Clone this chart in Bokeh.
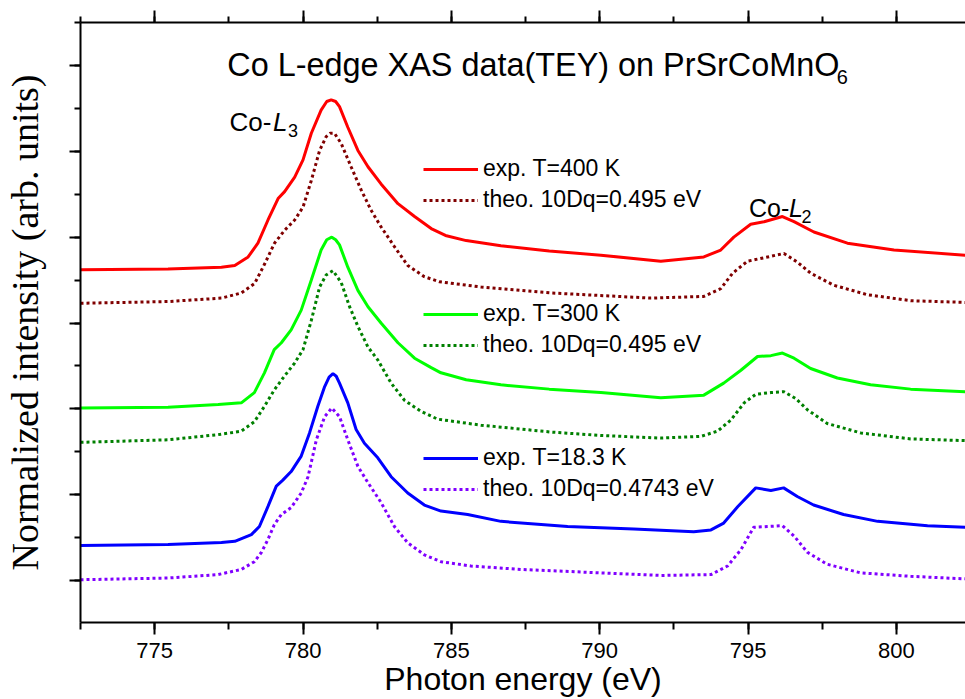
from bokeh.plotting import figure
from bokeh.models import (Legend, LegendItem, LinearAxis, SingleIntervalTicker,
                          Range1d, Label)
from bokeh.embed import file_html
from bokeh.resources import INLINE

# ---- Co L-edge XAS (TEY) on PrSrCoMnO6, stacked spectra (arb. units) ----
# T = 400 K
exp400_E = [772.5, 775.45, 777.25, 777.7, 778.15, 778.48, 778.82, 779.16, 779.38, 779.72,
            780.0, 780.28, 780.61, 780.8, 780.95, 781.1, 781.23, 781.51, 781.85, 782.19,
            782.63, 783.2, 783.76, 784.32, 784.8, 785.5, 786.67, 788.3, 790.04, 792.06,
            793.51, 794.08, 794.52, 795.09, 795.54, 796.16, 796.55, 797.22, 798.35, 799.92,
            802.33]
exp400_I = [3.62, 3.63, 3.65, 3.67, 3.77, 3.93, 4.20, 4.45, 4.53, 4.70,
            4.90, 5.21, 5.48, 5.58, 5.60, 5.58, 5.52, 5.28, 5.01, 4.82,
            4.62, 4.39, 4.24, 4.10, 4.02, 3.96, 3.90, 3.84, 3.79, 3.72,
            3.77, 3.85, 4.00, 4.15, 4.18, 4.24, 4.18, 4.06, 3.93, 3.85,
            3.79]
theo400_E = [772.5, 775.45, 777.25, 777.92, 778.37, 778.71, 779.04, 779.38, 779.72, 780.0,
             780.28, 780.56, 780.78, 780.92, 781.06, 781.29, 781.62, 781.96, 782.3, 782.63,
             783.08, 783.53, 784.09, 784.6, 786.0, 788.36, 791.73, 793.51, 794.08, 794.48,
             794.98, 795.54, 796.21, 796.66, 797.11, 797.89, 799.02, 800.48, 802.33]
theo400_I = [3.23, 3.25, 3.29, 3.35, 3.46, 3.69, 3.93, 4.08, 4.20, 4.35,
             4.66, 5.01, 5.17, 5.21, 5.21, 5.09, 4.82, 4.55, 4.31, 4.12,
             3.89, 3.67, 3.54, 3.48, 3.42, 3.35, 3.29, 3.31, 3.40, 3.58,
             3.72, 3.76, 3.81, 3.71, 3.58, 3.44, 3.33, 3.26, 3.24]

# T = 300 K
exp300_E = [772.5, 775.45, 777.14, 777.92, 778.36, 778.7, 779.03, 779.27, 779.6, 779.94,
            780.28, 780.61, 780.8, 780.97, 781.1, 781.23, 781.51, 781.85, 782.19, 782.63,
            783.2, 783.76, 784.32, 784.65, 785.5, 786.67, 788.3, 790.04, 792.06, 793.51,
            794.18, 794.76, 795.32, 795.77, 796.16, 796.55, 797.11, 798.01, 799.13, 800.48,
            802.33]
exp300_I = [2.01, 2.02, 2.05, 2.07, 2.19, 2.42, 2.69, 2.77, 2.92, 3.15,
            3.50, 3.85, 3.97, 4.00, 3.97, 3.91, 3.65, 3.38, 3.19, 3.00,
            2.77, 2.59, 2.48, 2.42, 2.34, 2.28, 2.23, 2.19, 2.13, 2.16,
            2.30, 2.45, 2.61, 2.62, 2.65, 2.59, 2.47, 2.36, 2.28, 2.23,
            2.20]
theo300_E = [772.5, 775.45, 777.14, 777.92, 778.36, 778.7, 779.03, 779.37, 779.71, 780.0,
             780.28, 780.56, 780.78, 781.01, 781.29, 781.57, 781.85, 782.19, 782.52, 782.97,
             783.42, 783.98, 784.54, 786.0, 788.36, 790.04, 792.06, 793.41, 793.97, 794.42,
             794.87, 795.26, 795.77, 796.21, 796.61, 797.0, 797.67, 798.8, 800.48, 802.33]
theo300_I = [1.61, 1.64, 1.70, 1.74, 1.85, 2.03, 2.22, 2.38, 2.53, 2.69,
             3.03, 3.42, 3.56, 3.61, 3.47, 3.19, 2.96, 2.72, 2.57, 2.30,
             2.10, 1.97, 1.88, 1.81, 1.73, 1.69, 1.66, 1.68, 1.74, 1.87,
             2.07, 2.17, 2.19, 2.20, 2.12, 1.99, 1.83, 1.72, 1.65, 1.63]

# T = 18.3 K
exp18_E = [772.5, 775.45, 777.25, 777.7, 778.26, 778.53, 778.82, 779.1, 779.32, 779.6,
           779.94, 780.22, 780.5, 780.73, 780.88, 781.01, 781.12, 781.23, 781.51, 781.79,
           782.07, 782.52, 782.97, 783.53, 784.09, 784.65, 785.55, 786.67, 788.92, 791.15,
           793.17, 793.75, 794.18, 794.65, 795.26, 795.77, 796.2, 796.66, 797.21, 798.22,
           799.37, 801.05, 802.33]
exp18_I = [0.41, 0.42, 0.445, 0.457, 0.535, 0.63, 0.864, 1.10, 1.17, 1.27,
           1.45, 1.72, 2.03, 2.26, 2.37, 2.41, 2.38, 2.30, 2.07, 1.76,
           1.60, 1.43, 1.21, 1.02, 0.88, 0.81, 0.77, 0.69, 0.63, 0.60,
           0.57, 0.59, 0.67, 0.86, 1.08, 1.05, 1.08, 0.98, 0.88, 0.77,
           0.69, 0.64, 0.62]
theo18_E = [772.5, 775.45, 777.14, 777.92, 778.36, 778.6, 778.82, 779.03, 779.27, 779.6,
            779.94, 780.17, 780.45, 780.73, 780.97, 781.23, 781.51, 781.85, 782.19, 782.63,
            783.08, 783.53, 784.09, 784.65, 785.66, 787.35, 790.04, 792.06, 793.75, 794.31,
            794.76, 795.19, 795.65, 796.16, 796.55, 797.0, 797.67, 798.8, 800.48, 802.33]
theo18_I = [0.01, 0.03, 0.07, 0.13, 0.22, 0.33, 0.48, 0.65, 0.77, 0.85,
            1.02, 1.21, 1.64, 1.91, 2.01, 1.91, 1.64, 1.33, 1.14, 0.91,
            0.63, 0.44, 0.30, 0.22, 0.17, 0.13, 0.09, 0.06, 0.07, 0.17,
            0.36, 0.62, 0.63, 0.64, 0.52, 0.33, 0.19, 0.09, 0.05, 0.02]

SANS = "Liberation Sans"
SERIF = "Liberation Serif"

p = figure(width=965, height=699, output_backend="svg", toolbar_location=None,
           x_range=Range1d(772.5, 802.33), y_range=Range1d(-0.488, 6.5),
           min_border_left=79, min_border_right=0, min_border_top=22,
           min_border_bottom=76,
           x_axis_label="Photon energy (eV)",
           y_axis_label="Normalized intensity (arb. units)")
p.grid.visible = False
p.outline_line_color = None
p.background_fill_color = "white"
p.border_fill_color = "white"


def style_axis(ax, tick_out, minor_out):
    ax.major_tick_out = tick_out
    ax.major_tick_in = 0
    ax.minor_tick_out = minor_out
    ax.minor_tick_in = 0
    ax.axis_line_width = 2
    ax.axis_line_color = "black"
    ax.major_tick_line_width = 2
    ax.minor_tick_line_width = 2
    ax.major_tick_line_color = "black"
    ax.minor_tick_line_color = "black"


def hide_tick_labels(ax):
    ax.major_label_text_font_size = "1px"
    ax.major_label_text_color = None
    ax.major_label_standoff = 0


# bottom axis
xa = p.xaxis[0]
xa.ticker = SingleIntervalTicker(interval=5, num_minor_ticks=2)
style_axis(xa, 12, 7)
xa.major_label_text_font = SANS
xa.major_label_text_font_size = "22px"
xa.major_label_text_color = "black"
xa.major_label_standoff = 8
xa.axis_label_text_font = SANS
xa.axis_label_text_font_size = "32px"
xa.axis_label_text_font_style = "normal"
xa.axis_label_text_color = "black"
xa.axis_label_standoff = 0

# left axis (ticks only, no tick labels)
ya = p.yaxis[0]
ya.ticker = SingleIntervalTicker(interval=1, num_minor_ticks=2)
style_axis(ya, 11, 6)
hide_tick_labels(ya)
ya.axis_label_text_font = SERIF
ya.axis_label_text_font_size = "38px"
ya.axis_label_text_font_style = "normal"
ya.axis_label_text_color = "black"
ya.axis_label_standoff = 24

# top axis (ticks only)
top = LinearAxis(ticker=SingleIntervalTicker(interval=5, num_minor_ticks=2))
style_axis(top, 12, 6)
hide_tick_labels(top)
p.add_layout(top, "above")

DOT = "3 3"
r400e = p.line(exp400_E, exp400_I, line_color="#FF0000", line_width=3)
r400t = p.line(theo400_E, theo400_I, line_color="#800000", line_width=3, line_dash=DOT)
r300e = p.line(exp300_E, exp300_I, line_color="#00FF00", line_width=3)
r300t = p.line(theo300_E, theo300_I, line_color="#008000", line_width=3, line_dash=DOT)
r18e = p.line(exp18_E, exp18_I, line_color="#0000FF", line_width=3)
r18t = p.line(theo18_E, theo18_I, line_color="#8000FF", line_width=3, line_dash=DOT)


def make_legend(items, loc):
    leg = Legend(items=[LegendItem(label=t, renderers=[r]) for t, r in items],
                 location=loc, background_fill_alpha=0, border_line_color=None,
                 padding=0, margin=0, spacing=4, glyph_width=55, glyph_height=24,
                 label_height=24, label_standoff=5, label_text_font=SANS,
                 label_text_font_size="23px", label_text_color="black")
    p.add_layout(leg)


make_legend([("exp. T=400 K", r400e), ("theo. 10Dq=0.495 eV", r400t)], (343, 409))
make_legend([("exp. T=300 K", r300e), ("theo. 10Dq=0.495 eV", r300t)], (343, 264))
make_legend([("exp. T=18.3 K", r18e), ("theo. 10Dq=0.4743 eV", r18t)], (343, 120))


def add_text(x, y, text, size, style="normal"):
    p.add_layout(Label(x=x, y=y, text=text, text_font=SANS, text_font_size=size,
                       text_font_style=style, text_baseline="alphabetic",
                       text_color="black"))


# title with chemical formula subscript
add_text(777.45, 6.0, "Co L-edge XAS data(TEY) on PrSrCoMnO", "32.4px")
add_text(797.99, 5.86, "6", "20px")

# edge labels
add_text(777.52, 5.34, "Co-", "26px")
add_text(778.99, 5.34, "L", "26px", "italic")
add_text(779.49, 5.24, "3", "18px")
add_text(795.03, 4.34, "Co-", "25px")
add_text(796.38, 4.34, "L", "25px", "italic")
add_text(796.8, 4.24, "2", "18px")

open("out.html", "w").write(file_html(p, INLINE))
